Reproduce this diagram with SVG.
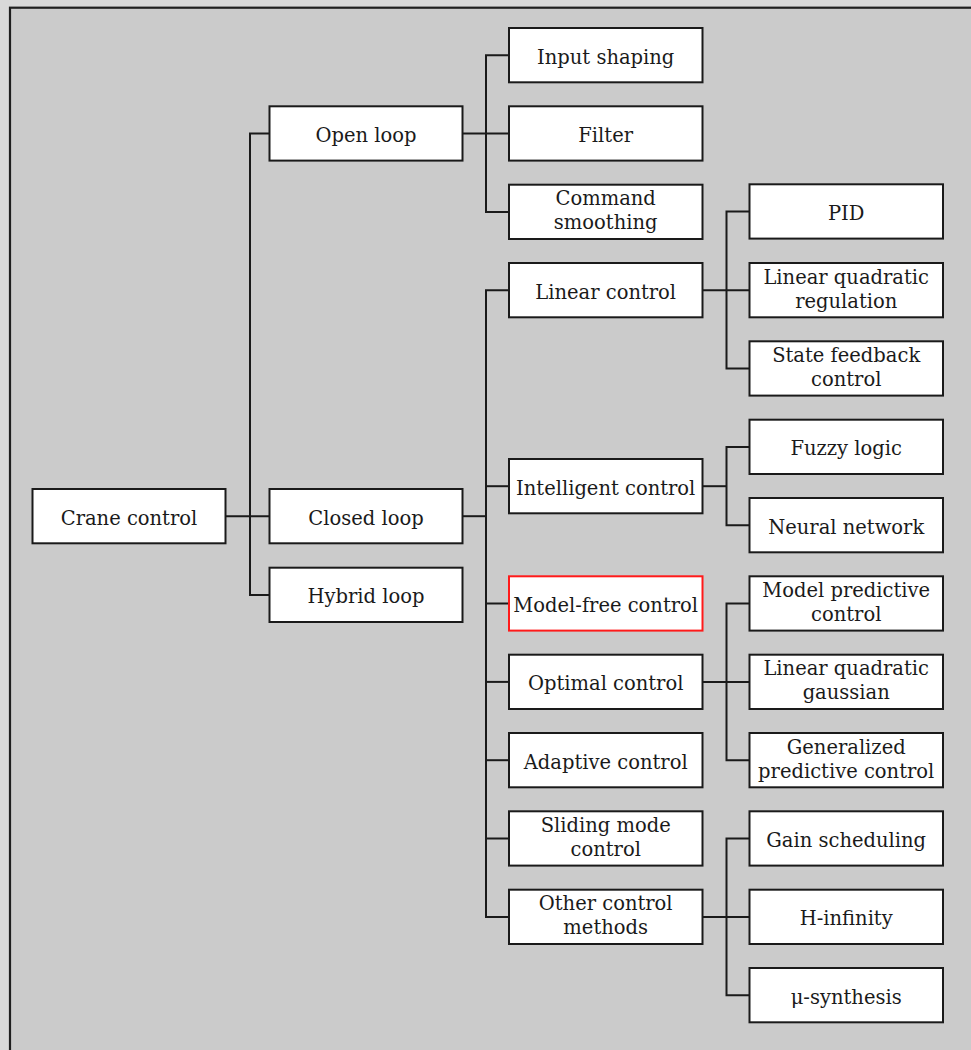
<svg xmlns="http://www.w3.org/2000/svg" width="971" height="1050" viewBox="0 0 971 1050">
  <style>
    .box { fill: #ffffff; stroke: #1a1a1a; stroke-width: 2; }
    .box.hl { stroke: #ff1a1a; }
    .lbl { font-family: "DejaVu Serif", "Liberation Serif", serif; font-size: 19.5px; fill: #1a1a1a; text-anchor: middle; }
    .wire { fill: none; stroke: #1a1a1a; stroke-width: 2; }
  </style>

  <!-- page and frame -->
  <rect x="0" y="0" width="971" height="1050" fill="#d9d9d9"/>
  <rect x="10" y="7.7" width="975" height="1060" fill="#cbcbcb" stroke="#1f1f1f" stroke-width="2.2"/>

  <!-- connectors -->
  <g id="connectors" class="wire">
    <!-- root -->
    <path d="M225.5 516.2 H269.5"/>
    <path d="M269.5 133.5 H250 V595 H269.5"/>
    <!-- open loop -->
    <path d="M462.5 133.5 H509"/>
    <path d="M509 55.2 H486 V211.9 H509"/>
    <!-- closed loop -->
    <path d="M462.5 516.2 H486"/>
    <path d="M509 290.2 H486 V916.9 H509"/>
    <path d="M486 486.2 H509"/>
    <path d="M486 603.5 H509"/>
    <path d="M486 681.9 H509"/>
    <path d="M486 760.2 H509"/>
    <path d="M486 838.5 H509"/>
    <!-- linear control -->
    <path d="M702.5 290.2 H749.5"/>
    <path d="M749.5 211.5 H726.5 V368.5 H749.5"/>
    <!-- intelligent control -->
    <path d="M702.5 486.2 H726.5"/>
    <path d="M749.5 446.9 H726.5 V525.2 H749.5"/>
    <!-- optimal control -->
    <path d="M702.5 681.9 H749.5"/>
    <path d="M749.5 603.5 H726.5 V760.2 H749.5"/>
    <!-- other control methods -->
    <path d="M702.5 916.9 H749.5"/>
    <path d="M749.5 838.5 H726.5 V995.2 H749.5"/>
  </g>

  <!-- level 0 -->
  <g id="crane-control">
    <rect class="box" x="32.5" y="489" width="193" height="54.3"/>
    <text class="lbl" x="129" y="524.7">Crane control</text>
  </g>

  <!-- level 1 -->
  <g id="open-loop">
    <rect class="box" x="269.5" y="106.3" width="193" height="54.3"/>
    <text class="lbl" x="366" y="142">Open loop</text>
  </g>
  <g id="closed-loop">
    <rect class="box" x="269.5" y="489" width="193" height="54.3"/>
    <text class="lbl" x="366" y="524.7">Closed loop</text>
  </g>
  <g id="hybrid-loop">
    <rect class="box" x="269.5" y="567.7" width="193" height="54.3"/>
    <text class="lbl" x="366" y="603.4">Hybrid loop</text>
  </g>

  <!-- level 2 -->
  <g id="input-shaping">
    <rect class="box" x="509" y="28" width="193.5" height="54.3"/>
    <text class="lbl" x="605.7" y="63.7">Input shaping</text>
  </g>
  <g id="filter">
    <rect class="box" x="509" y="106.3" width="193.5" height="54.3"/>
    <text class="lbl" x="605.7" y="142">Filter</text>
  </g>
  <g id="command-smoothing">
    <rect class="box" x="509" y="184.7" width="193.5" height="54.3"/>
    <text class="lbl" x="605.7" y="205.2">Command</text>
    <text class="lbl" x="605.7" y="229.4">smoothing</text>
  </g>
  <g id="linear-control">
    <rect class="box" x="509" y="263" width="193.5" height="54.3"/>
    <text class="lbl" x="605.7" y="298.7">Linear control</text>
  </g>
  <g id="intelligent-control">
    <rect class="box" x="509" y="459" width="193.5" height="54.3"/>
    <text class="lbl" x="605.7" y="494.7">Intelligent control</text>
  </g>
  <g id="model-free-control">
    <rect class="box hl" x="509" y="576.3" width="193.5" height="54.3"/>
    <text class="lbl" x="605.7" y="612">Model-free control</text>
  </g>
  <g id="optimal-control">
    <rect class="box" x="509" y="654.7" width="193.5" height="54.3"/>
    <text class="lbl" x="605.7" y="690.4">Optimal control</text>
  </g>
  <g id="adaptive-control">
    <rect class="box" x="509" y="733" width="193.5" height="54.3"/>
    <text class="lbl" x="605.7" y="768.7">Adaptive control</text>
  </g>
  <g id="sliding-mode-control">
    <rect class="box" x="509" y="811.3" width="193.5" height="54.3"/>
    <text class="lbl" x="605.7" y="831.8">Sliding mode</text>
    <text class="lbl" x="605.7" y="856">control</text>
  </g>
  <g id="other-control-methods">
    <rect class="box" x="509" y="889.7" width="193.5" height="54.3"/>
    <text class="lbl" x="605.7" y="910.2">Other control</text>
    <text class="lbl" x="605.7" y="934.4">methods</text>
  </g>

  <!-- level 3 -->
  <g id="pid">
    <rect class="box" x="749.5" y="184.3" width="193.5" height="54.3"/>
    <text class="lbl" x="846.2" y="220">PID</text>
  </g>
  <g id="linear-quadratic-regulation">
    <rect class="box" x="749.5" y="263" width="193.5" height="54.3"/>
    <text class="lbl" x="846.2" y="283.5">Linear quadratic</text>
    <text class="lbl" x="846.2" y="307.7">regulation</text>
  </g>
  <g id="state-feedback-control">
    <rect class="box" x="749.5" y="341.3" width="193.5" height="54.3"/>
    <text class="lbl" x="846.2" y="361.8">State feedback</text>
    <text class="lbl" x="846.2" y="386">control</text>
  </g>
  <g id="fuzzy-logic">
    <rect class="box" x="749.5" y="419.7" width="193.5" height="54.3"/>
    <text class="lbl" x="846.2" y="455.4">Fuzzy logic</text>
  </g>
  <g id="neural-network">
    <rect class="box" x="749.5" y="498" width="193.5" height="54.3"/>
    <text class="lbl" x="846.2" y="533.7">Neural network</text>
  </g>
  <g id="model-predictive-control">
    <rect class="box" x="749.5" y="576.3" width="193.5" height="54.3"/>
    <text class="lbl" x="846.2" y="596.8">Model predictive</text>
    <text class="lbl" x="846.2" y="621">control</text>
  </g>
  <g id="linear-quadratic-gaussian">
    <rect class="box" x="749.5" y="654.7" width="193.5" height="54.3"/>
    <text class="lbl" x="846.2" y="675.2">Linear quadratic</text>
    <text class="lbl" x="846.2" y="699.4">gaussian</text>
  </g>
  <g id="generalized-predictive-control">
    <rect class="box" x="749.5" y="733" width="193.5" height="54.3"/>
    <text class="lbl" x="846.2" y="753.5">Generalized</text>
    <text class="lbl" x="846.2" y="777.7">predictive control</text>
  </g>
  <g id="gain-scheduling">
    <rect class="box" x="749.5" y="811.3" width="193.5" height="54.3"/>
    <text class="lbl" x="846.2" y="847">Gain scheduling</text>
  </g>
  <g id="h-infinity">
    <rect class="box" x="749.5" y="889.7" width="193.5" height="54.3"/>
    <text class="lbl" x="846.2" y="925.4">H-infinity</text>
  </g>
  <g id="mu-synthesis">
    <rect class="box" x="749.5" y="968" width="193.5" height="54.3"/>
    <text class="lbl" x="846.2" y="1003.7">μ-synthesis</text>
  </g>
</svg>
